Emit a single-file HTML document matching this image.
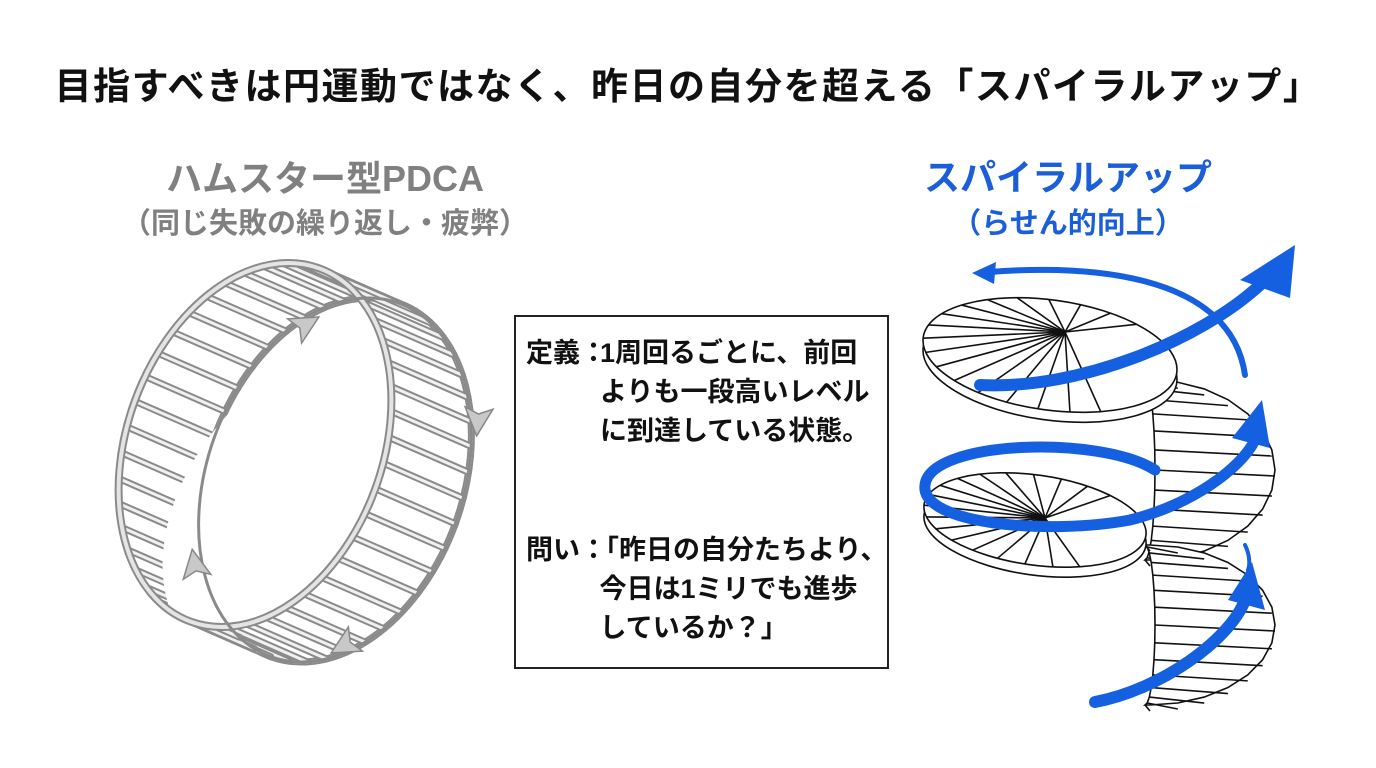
<!DOCTYPE html>
<html><head><meta charset="utf-8"><style>
html,body{margin:0;padding:0;background:#fff;}
body{width:1376px;height:768px;position:relative;overflow:hidden;font-family:"Liberation Sans","Noto Sans CJK JP",sans-serif;}
.t{position:absolute;font-weight:bold;white-space:nowrap;}
</style></head><body>
<div class="t" style="left:0;width:1376px;text-align:center;top:56px;font-size:37px;color:#111;letter-spacing:1.5px">目指すべきは円運動ではなく、昨日の自分を超える「スパイラルアップ」</div>
<div class="t" style="left:125px;width:400px;text-align:center;top:150px;font-size:36px;color:#808080">ハムスター型PDCA</div>
<div class="t" style="left:105px;width:440px;text-align:center;top:200px;font-size:29px;color:#808080">（同じ失敗の繰り返し・疲弊）</div>
<div class="t" style="left:868px;width:400px;text-align:center;top:149px;font-size:36px;color:#1a5ed8">スパイラルアップ</div>
<div class="t" style="left:868px;width:400px;text-align:center;top:200px;font-size:29px;color:#1a5ed8">（らせん的向上）</div>
<div style="position:absolute;left:514px;top:315px;width:371px;height:350px;border:2px solid #222;"></div>
<div class="t" style="left:526px;top:334px;font-size:27px;line-height:39px;color:#111">定義：</div>
<div class="t" style="left:600px;top:334px;font-size:27px;line-height:39px;color:#111">1周回るごとに、前回<br>よりも一段高いレベル<br>に到達している状態。</div>
<div class="t" style="left:526px;top:531px;font-size:27px;line-height:39px;color:#111">問い：</div>
<div class="t" style="left:592px;top:531px;font-size:27px;line-height:39px;color:#111">「昨日の自分たちより、<br>&nbsp;今日は1ミリでも進歩<br>&nbsp;しているか？」</div>
<svg id="s" width="1376" height="768" style="position:absolute;left:0;top:0">
<defs>
<clipPath id="cb"><ellipse cx="335" cy="480" rx="128" ry="188" transform="rotate(20 335 480)"/></clipPath>
</defs>
<g id="wheel"></g>
<g id="stairs" fill="#fff" stroke="#111" stroke-width="1.6"></g>
<g id="blue"></g>
</svg>
<script>
var NS="http://www.w3.org/2000/svg";
function el(p,t,a){var e=document.createElementNS(NS,t);for(var k in a)e.setAttribute(k,a[k]);p.appendChild(e);return e;}
var W=document.getElementById('wheel');
var r=20*Math.PI/180;
function pt(cx,cy,rx,ry,th){var x=rx*Math.cos(th),y=ry*Math.sin(th);return [cx+x*Math.cos(r)-y*Math.sin(r),cy+x*Math.sin(r)+y*Math.cos(r)];}
el(W,'ellipse',{cx:335,cy:480,rx:128,ry:188,transform:'rotate(20 335 480)',fill:'none',stroke:'#8a8a8a','stroke-width':7});
el(W,'ellipse',{cx:335,cy:480,rx:128,ry:188,transform:'rotate(20 335 480)',fill:'none',stroke:'#e2e2e2','stroke-width':3});
for(var i=0;i<44;i++){var th=i/44*2*Math.PI;var a=pt(255,445,128,188,th);
el(W,'line',{x1:a[0],y1:a[1],x2:a[0]+80,y2:a[1]+35,stroke:'#8a8a8a','stroke-width':7,'stroke-linecap':'round'});
el(W,'line',{x1:a[0],y1:a[1],x2:a[0]+80,y2:a[1]+35,stroke:'#f0f0f0','stroke-width':3,'stroke-linecap':'round'});}
el(W,'ellipse',{cx:255,cy:445,rx:128,ry:188,transform:'rotate(20 255 445)',fill:'#fff','clip-path':'url(#cb)'});
el(W,'ellipse',{cx:255,cy:445,rx:128,ry:188,transform:'rotate(20 255 445)',fill:'none',stroke:'#8a8a8a','stroke-width':8});
el(W,'ellipse',{cx:255,cy:445,rx:128,ry:188,transform:'rotate(20 255 445)',fill:'none',stroke:'#e4e4e4','stroke-width':4});
el(W,'ellipse',{cx:335,cy:480,rx:128,ry:188,transform:'rotate(20 335 480)',fill:'none',stroke:'#8a8a8a','stroke-width':3});
[[305,325,-30],[478,420,95],[195,565,-100],[345,645,150]].forEach(function(q){
el(W,'polygon',{points:'16,0 -12,-14 -6,0 -12,14',transform:'translate('+q[0]+','+q[1]+') rotate('+q[2]+')',fill:'#c8c8c8',stroke:'#888','stroke-width':1.5});});
var S=document.getElementById('stairs');
function disc(cx,cy,rx,ry,rot,hub){
 el(S,'ellipse',{cx:cx,cy:cy+10,rx:rx,ry:ry,transform:'rotate('+rot+' '+cx+' '+(cy+10)+')'});
 el(S,'ellipse',{cx:cx,cy:cy,rx:rx,ry:ry,transform:'rotate('+rot+' '+cx+' '+cy+')'});
 for(var k=0;k<18;k++){var th=Math.PI*0.35+k/18*Math.PI*1.45;var rr=rot*Math.PI/180;var x=rx*Math.cos(th),y=ry*Math.sin(th);
  el(S,'line',{x1:hub[0],y1:hub[1],x2:cx+x*Math.cos(rr)-y*Math.sin(rr),y2:cy+x*Math.sin(rr)+y*Math.cos(rr)});}
}
function flight(y0,y1){
 var n=14;
 var outer='',inner='';
 for(var k=0;k<=n;k++){var t=k/n;var ang=-Math.PI/2+t*Math.PI;var yy=(y0+y1)/2+Math.sin(ang)*(y1-y0)/2;
  var xo=1150+Math.cos(ang)*125, xi=1150+Math.cos(ang)*10-5;
  outer+=(k?'L':'M')+xo+','+yy+' ';inner=' L'+xi+','+yy+inner;
 }
 el(S,'path',{d:outer+inner+'Z'});
 for(var k=0;k<=n;k++){var t=k/n;var ang=-Math.PI/2+t*Math.PI;var yy=(y0+y1)/2+Math.sin(ang)*(y1-y0)/2;
  el(S,'line',{x1:1150+Math.cos(ang)*10-5,y1:yy,x2:1150+Math.cos(ang)*125,y2:yy+6});}
}
flight(380,560);
flight(545,705);
disc(1050,355,128,55,8,[1065,332]);
disc(1035,520,112,45,8,[1045,518]);
var B=document.getElementById('blue');
function band(d,w){el(B,'path',{d:d,fill:'none',stroke:'#1560e0','stroke-width':w,'stroke-linecap':'round'});}
band('M1245,375 C1230,270 1080,265 990,272',6);
el(B,'polygon',{points:'972,273 996,262 994,284',fill:'#1560e0'});
band('M980,385 C1080,390 1200,340 1260,285',12);
el(B,'polygon',{points:'1295,245 1290,298 1240,280',fill:'#1560e0'});
band('M1155,470 C1100,435 930,440 925,485 C920,525 1050,535 1130,520 C1190,505 1240,470 1255,440',11);
el(B,'polygon',{points:'1262,400 1270,448 1232,438',fill:'#1560e0'});
band('M1245,545 C1250,555 1250,565 1248,570',4);
band('M1095,702 C1160,690 1230,640 1245,600',12);
el(B,'polygon',{points:'1252,562 1265,610 1228,600',fill:'#1560e0'});
</script>
</body></html>
